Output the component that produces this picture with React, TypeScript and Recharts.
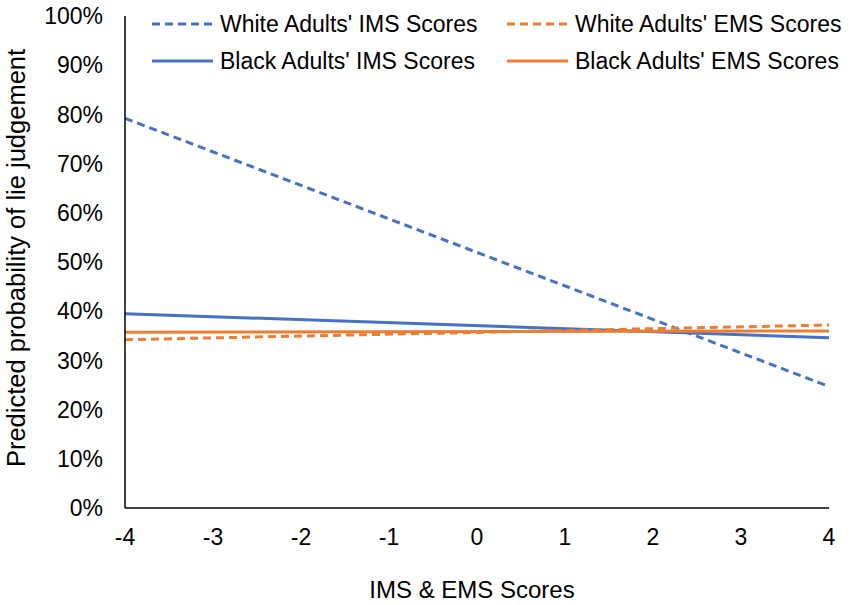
import React from 'react';
import { LineChart, Line, XAxis, YAxis } from 'recharts';

const xScores = [-4, 4];
const whiteIms = [79.2, 24.7];
const blackIms = [39.5, 34.6];
const whiteEms = [34.2, 37.2];
const blackEms = [35.7, 36.0];
const xTicks = [-4, -3, -2, -1, 0, 1, 2, 3, 4];
const yTicks = [0, 10, 20, 30, 40, 50, 60, 70, 80, 90, 100];

const BLUE = '#4472C4';
const ORANGE = '#ED7D31';
const FONT = '"Liberation Sans", Arial, sans-serif';
const FS = 23;

const data = xScores.map((x, i) => ({
  x,
  whiteIms: whiteIms[i],
  blackIms: blackIms[i],
  whiteEms: whiteEms[i],
  blackEms: blackEms[i],
}));

const legendItems = [
  { name: "White Adults' IMS Scores", color: BLUE, dashed: true, left: 152, top: 24 },
  { name: "White Adults' EMS Scores", color: ORANGE, dashed: true, left: 507, top: 24 },
  { name: "Black Adults' IMS Scores", color: BLUE, dashed: false, left: 152, top: 61 },
  { name: "Black Adults' EMS Scores", color: ORANGE, dashed: false, left: 507, top: 61 },
];

const ChartLegend = () => (
  <div style={{ position: 'absolute', left: 0, top: 0, width: 851, height: 90, pointerEvents: 'none' }}>
    {legendItems.map((item) => (
      <div
        key={item.name}
        style={{
          position: 'absolute',
          left: item.left,
          top: item.top - 15,
          height: 30,
          display: 'flex',
          alignItems: 'center',
          fontFamily: FONT,
          fontSize: FS,
          color: '#000',
          whiteSpace: 'nowrap',
          background: '#fff',
        }}
      >
        <svg width={61} height={8} style={{ marginRight: 7 }}>
          <line
            x1={0}
            y1={4}
            x2={61}
            y2={4}
            stroke={item.color}
            strokeWidth={3}
            strokeDasharray={item.dashed ? '8 5' : undefined}
          />
        </svg>
        {item.name}
      </div>
    ))}
  </div>
);

const App = () => {
  return (
    <div style={{ position: 'relative', width: 851, height: 605, background: '#fff' }}>
      <style>{`body{margin:0}`}</style>
      <LineChart width={851} height={605} data={data} margin={{ top: 16, right: 22, left: 0, bottom: 0 }}>
        <XAxis
          dataKey="x"
          type="number"
          domain={[-4, 4]}
          ticks={xTicks}
          height={97}
          tickSize={0}
          tickMargin={21}
          stroke="#000"
          strokeWidth={1.5}
          tick={{ fill: '#000', fontSize: FS, fontFamily: FONT }}
          label={{
            value: 'IMS & EMS Scores',
            position: 'insideBottom',
            offset: 7,
            dx: -5,
            style: { fill: '#000', fontSize: 24, fontFamily: FONT },
          }}
        />
        <YAxis
          type="number"
          domain={[0, 100]}
          ticks={yTicks}
          width={125}
          tickSize={0}
          tickMargin={22}
          stroke="#000"
          strokeWidth={1.5}
          tickFormatter={(v) => `${v}%`}
          tick={{ fill: '#000', fontSize: FS, fontFamily: FONT }}
          label={{
            value: 'Predicted probability of lie judgement',
            angle: -90,
            position: 'insideLeft',
            offset: 16,
            dy: -4,
            style: { fill: '#000', fontSize: 25.5, fontFamily: FONT, textAnchor: 'middle' },
          }}
        />
        <Line dataKey="whiteIms" name="White Adults' IMS Scores" stroke={BLUE} strokeWidth={3} strokeDasharray="8 5" dot={false} isAnimationActive={false} />
        <Line dataKey="blackIms" name="Black Adults' IMS Scores" stroke={BLUE} strokeWidth={3} dot={false} isAnimationActive={false} />
        <Line dataKey="whiteEms" name="White Adults' EMS Scores" stroke={ORANGE} strokeWidth={3} strokeDasharray="8 5" dot={false} isAnimationActive={false} />
        <Line dataKey="blackEms" name="Black Adults' EMS Scores" stroke={ORANGE} strokeWidth={3} dot={false} isAnimationActive={false} />
      </LineChart>
      <ChartLegend />
    </div>
  );
};

export default App;
